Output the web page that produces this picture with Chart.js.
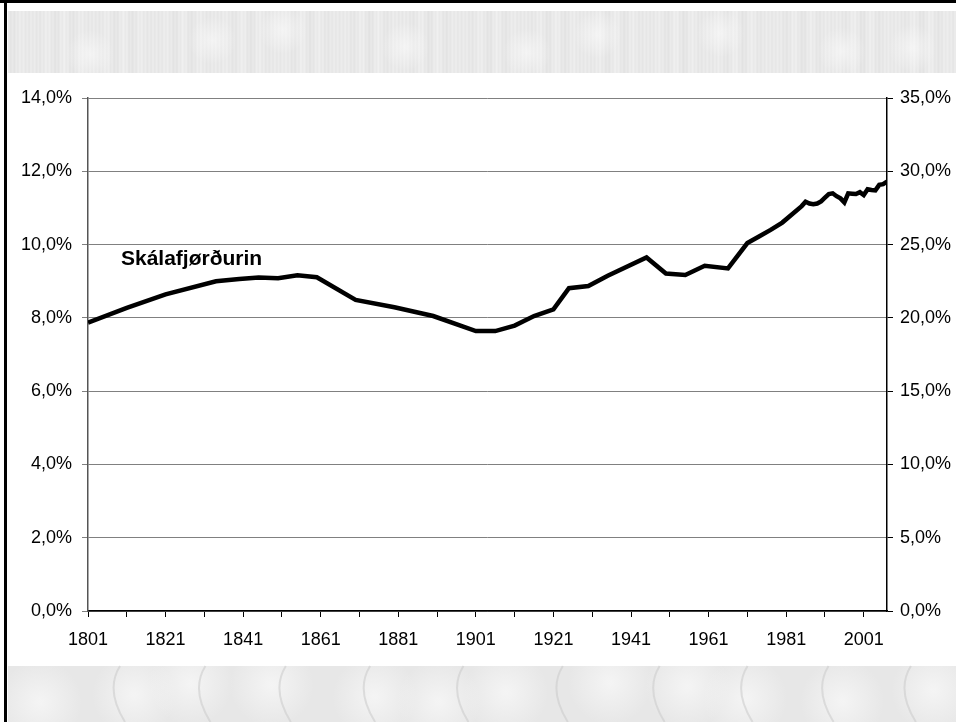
<!DOCTYPE html>
<html>
<head>
<meta charset="utf-8">
<script src="https://cdn.jsdelivr.net/npm/chart.js@4.4.0/dist/chart.umd.min.js"></script>
<style>
  html,body{margin:0;padding:0;background:#fff;overflow:hidden;}
</style>
</head>
<body>
<canvas id="myChart" width="956" height="722"></canvas>
<script>
  // share of population, Skálafjørðurin (%)
  let years=[1801,1811,1821,1834,1840,1845,1850,1855,1860,1870,1880,1890,1901,1906,1911,1916,1921,1925,1930,1935,1945,1950,1955,1960,1966,1971,1974,1977,1980,
    1985,1986,1987,1988,1989,1990,1991,1992,1993,1994,1995,1996,1997,1998,1999,2000,2001,2002,2003,2004,2005,2006,2007];
  let share=[7.87,8.27,8.64,9.00,9.06,9.10,9.08,9.16,9.11,8.49,8.29,8.05,7.64,7.64,7.79,8.05,8.23,8.81,8.87,9.15,9.65,9.21,9.17,9.42,9.35,10.04,10.22,10.40,10.60,
    11.05,11.17,11.12,11.10,11.12,11.18,11.28,11.38,11.40,11.32,11.26,11.15,11.40,11.39,11.38,11.43,11.35,11.51,11.49,11.48,11.63,11.65,11.72];
  let tickYears=[1801,1811,1821,1831,1841,1851,1861,1871,1881,1891,1901,1911,1921,1931,1941,1951,1961,1971,1981,1991,2001];
  let labelYears=[1801,1821,1841,1861,1881,1901,1921,1941,1961,1981,2001];
  let seriesName='Skálafjørðurin';
  let namePos={x:1809.5,y:9.61};

  let points=[];
  for(let i=0;i<years.length;i++){
    points.push({x:years[i],y:share[i]});
  }
  let pct=v=>v.toFixed(1).replace('.',',')+'%';
  let fam='"Liberation Sans", Arial, sans-serif';

  let backdrop={
    id:'backdrop',
    beforeDraw(chart){
      let c=chart.ctx;
      c.save();
      c.fillStyle='#fff';
      c.fillRect(0,0,956,722);
      // top band, soft streaks
      for(let x=8;x<956;x++){
        let s=233+4*Math.sin(x*0.37)*Math.cos(x*0.051)+3*Math.sin(x*1.7);
        s=Math.round(Math.min(244,Math.max(224,s)));
        c.fillStyle='rgb('+s+','+s+','+s+')';
        c.fillRect(x,11,1,62);
      }
      for(let k=0;k<9;k++){
        let x0=90+k*105+20*Math.sin(k*2.1);
        let y0=42+12*Math.cos(k*1.7);
        let rg=c.createRadialGradient(x0,y0,1,x0,y0,24);
        rg.addColorStop(0,'rgba(250,250,250,0.6)');
        rg.addColorStop(1,'rgba(250,250,250,0)');
        c.fillStyle=rg;
        c.fillRect(x0-25,11,50,62);
      }
      // bottom band, stony
      c.fillStyle='#e7e7e7';
      c.fillRect(8,666,948,56);
      for(let k=0;k<12;k++){
        let x0=40+k*80+15*Math.sin(k*1.9);
        let y0=692+10*Math.cos(k*1.3);
        let rg=c.createRadialGradient(x0,y0,2,x0,y0,42);
        rg.addColorStop(0,'rgba(245,245,245,0.9)');
        rg.addColorStop(1,'rgba(245,245,245,0)');
        c.fillStyle=rg;
        c.fillRect(x0-45,666,90,56);
      }
      c.strokeStyle='rgba(205,205,205,0.6)';
      c.lineWidth=2;
      for(let k=0;k<10;k++){
        let x0=110+k*90+10*Math.cos(k);
        c.beginPath();
        c.moveTo(x0,666);
        c.quadraticCurveTo(x0-15,690,x0+5,722);
        c.stroke();
      }
      // frame
      c.fillStyle='#000';
      c.fillRect(0,0,956,3);
      c.fillRect(4,0,3,722);
      c.restore();
    },
    afterDatasetsDraw(chart){
      let c=chart.ctx;
      let px=chart.scales.x.getPixelForValue(namePos.x);
      let py=chart.scales.y.getPixelForValue(namePos.y);
      c.save();
      c.font='bold 21px '+fam;
      c.fillStyle='#000';
      c.textBaseline='middle';
      c.textAlign='left';
      c.fillText(seriesName,px,py);
      c.restore();
    }
  };

  let ctx=document.getElementById('myChart').getContext('2d');
  let myChart=new Chart(ctx,{
    type:'line',
    data:{
      datasets:[{
        label:seriesName,
        data:points,
        borderColor:'#000',
        borderWidth:4.5,
        pointRadius:0,
        fill:false,
        tension:0,
        yAxisID:'y'
      }]
    },
    options:{
      responsive:false,
      animation:false,
      devicePixelRatio:1,
      layout:{padding:{top:98,left:0,right:0,bottom:0}},
      plugins:{legend:{display:false},tooltip:{enabled:false}},
      scales:{
        x:{
          type:'linear',
          min:1801,max:2007,
          afterBuildTicks:s=>{s.ticks=tickYears.map(v=>({value:v}));},
          afterFit:s=>{s.height=111;},
          ticks:{
            autoSkip:false,maxRotation:0,color:'#000',padding:12,
            font:{family:fam,size:18},
            callback:v=>labelYears.includes(v)?String(v):''
          },
          grid:{drawOnChartArea:false,color:'#000',tickLength:6},
          border:{color:'#000',width:1.5}
        },
        y:{
          position:'left',
          min:0,max:14,
          afterFit:s=>{s.width=88;},
          ticks:{stepSize:2,color:'#000',padding:10,font:{family:fam,size:18},callback:v=>pct(v)},
          grid:{color:'#808080',tickLength:6},
          border:{color:'#555',width:1.5}
        },
        y2:{
          position:'right',
          min:0,max:35,
          afterFit:s=>{s.width=69;},
          ticks:{stepSize:5,color:'#000',padding:7,font:{family:fam,size:18},callback:v=>pct(v)},
          grid:{drawOnChartArea:false,color:'#000',tickLength:6},
          border:{color:'#000',width:1.5}
        }
      }
    },
    plugins:[backdrop]
  });
</script>
</body>
</html>
